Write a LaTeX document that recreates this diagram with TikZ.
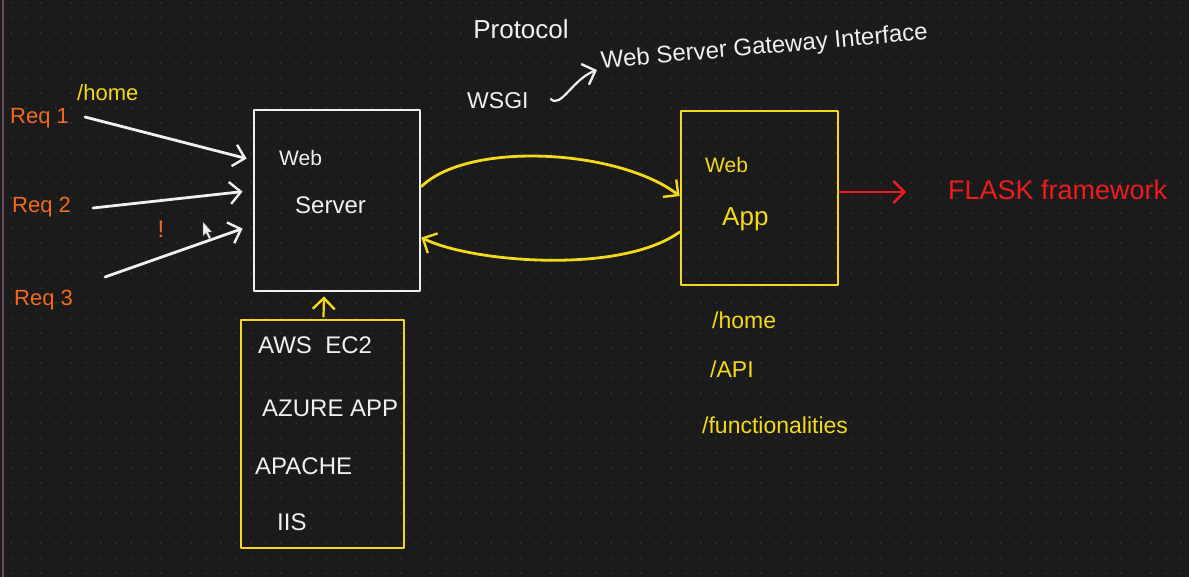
\documentclass[tikz,border=0pt]{standalone}
\usepackage{fontspec}
\setmainfont{Liberation Sans}
\usetikzlibrary{arrows.meta,calc}
\definecolor{bg}{HTML}{1B1B1B}
\definecolor{griddot}{HTML}{3C3C3C}
\definecolor{inkwhite}{HTML}{F0F0F0}
\definecolor{inkyellow}{HTML}{F4D81C}
\definecolor{inkorange}{HTML}{F26A1E}
\definecolor{inkred}{HTML}{EE1C1C}
\definecolor{edge}{HTML}{6A4E60}
\tikzset{
  ink/.style={line width=2.8pt, line cap=round, line join=round},
  barb/.style={-{Straight Barb[length=11pt,width=22pt,line width=2.4pt]}},
  hand/.style={inner sep=0pt, font=\fontsize{#1}{#1}\selectfont},
  hand/.default=22,
  frame/.style={ink, draw, rectangle, inner sep=0pt},
}
\begin{document}
\begin{tikzpicture}[x=1pt,y=-1pt]
  % canvas and dotted grid
  \fill[bg] (0,0) rectangle (1189,577);
  \useasboundingbox (0,0) rectangle (1189,577);
  \foreach \gx in {11,26,...,1189}
    \foreach \gy in {3,18,...,577}
      \fill[griddot] (\gx,\gy) circle (0.9);
  \draw[edge, line width=1.5pt] (3,0) -- (3,577);

  % boxes
  \node[frame, inkwhite, minimum width=166pt, minimum height=181pt] (ws) at (337,200.5) {};
  \node[frame, inkyellow, minimum width=157pt, minimum height=174pt] (wa) at (759.5,198) {};
  \node[frame, inkyellow, minimum width=163pt, minimum height=228pt] (host) at (322.5,434) {};

  % box texts
  \node[hand=21, inkwhite, anchor=west] (wsA) at (279,158) {Web};
  \node[hand=24, inkwhite, anchor=west] (wsB) at (295,205) {Server};
  \node[hand=21, inkyellow, anchor=west] (waA) at (705,165) {Web};
  \node[hand=26, inkyellow, anchor=west] (waB) at (722,219) {App};

  \node[hand=24, inkwhite, anchor=west] (h1) at (258,345) {AWS\ \ EC2};
  \node[hand=24, inkwhite, anchor=west] (h2) at (262,408) {AZURE APP};
  \node[hand=24, inkwhite, anchor=west] (h3) at (255,466) {APACHE};
  \node[hand=24, inkwhite, anchor=west] (h4) at (277,522) {IIS};

  % requests
  \node[hand=22, inkorange, anchor=west] (r1) at (10,118) {Req 1};
  \node[hand=22, inkorange, anchor=west] (r2) at (12,207) {Req 2};
  \node[hand=22, inkorange, anchor=west] (r3) at (14,300) {Req 3};
  \node[hand=22, inkyellow, anchor=west] (rh) at (77,93) {/home};
  \node[hand=24, inkorange] (bang) at (161,229) {!};

  \coordinate (r1s) at (85,117);
  \coordinate (r2s) at (93,208);
  \coordinate (r3s) at (105,277);
  \draw[ink, barb, inkwhite] (r1s) -- ($(ws.north west)+(-6,50)$);
  \draw[ink, barb, inkwhite] (r2s) -- ($(ws.north west)+(-10,83)$);
  \draw[ink, barb, inkwhite] (r3s) -- ($(ws.north west)+(-10,120)$);

  % pointer
  \filldraw[fill=inkwhite, draw=black!60, line width=0.4pt]
    (203,222) -- (203,236) -- (206,233) -- (209,239) -- (211,238) -- (208,232) -- (212,232) -- cycle;

  % protocol heading
  \node[hand=26, inkwhite] (proto) at (521,29) {Protocol};
  \node[hand=23, inkwhite, anchor=west] (wsgi) at (467,101) {WSGI};
  \node[hand=24, inkwhite, anchor=west, rotate=5] (wsginame) at (601,62) {Web Server Gateway Interface};
  \draw[ink, barb, inkwhite, line width=2.2pt] ($(wsgi.east)+(22,-2)$)
    .. controls ($(wsgi.east)+(32,8)$) and ($(wsgi.east)+(44,-22)$) .. ($(wsginame.west)+(-4,8)$);

  % request / response between server and app
  \draw[ink, barb, inkyellow] ($(ws.east)+(0,-14)$)
    .. controls (470,140) and (620,150) .. ($(wa.west)+(0,-2)$);
  \draw[ink, barb, inkyellow] ($(wa.west)+(0,34)$)
    .. controls (620,275) and (470,262) .. ($(ws.east)+(0,37)$);

  % hosting options feed the server
  \draw[ink, barb, inkyellow, line width=2.2pt] ($(host.north)+(1,-2)$) -- ($(ws.south)+(-13,4)$);

  % framework
  \node[hand=27, inkred, anchor=west] (flask) at (948,190) {FLASK framework};
  \draw[ink, barb, inkred] ($(wa.east)+(0,-6)$) -- ($(flask.west)+(-42,2)$);

  % routes
  \node[hand=23, inkyellow, anchor=west] (rt1) at (712,320) {/home};
  \node[hand=23, inkyellow, anchor=west] (rt2) at (710,369) {/API};
  \node[hand=23, inkyellow, anchor=west] (rt3) at (702,425) {/functionalities};
\end{tikzpicture}
\end{document}
